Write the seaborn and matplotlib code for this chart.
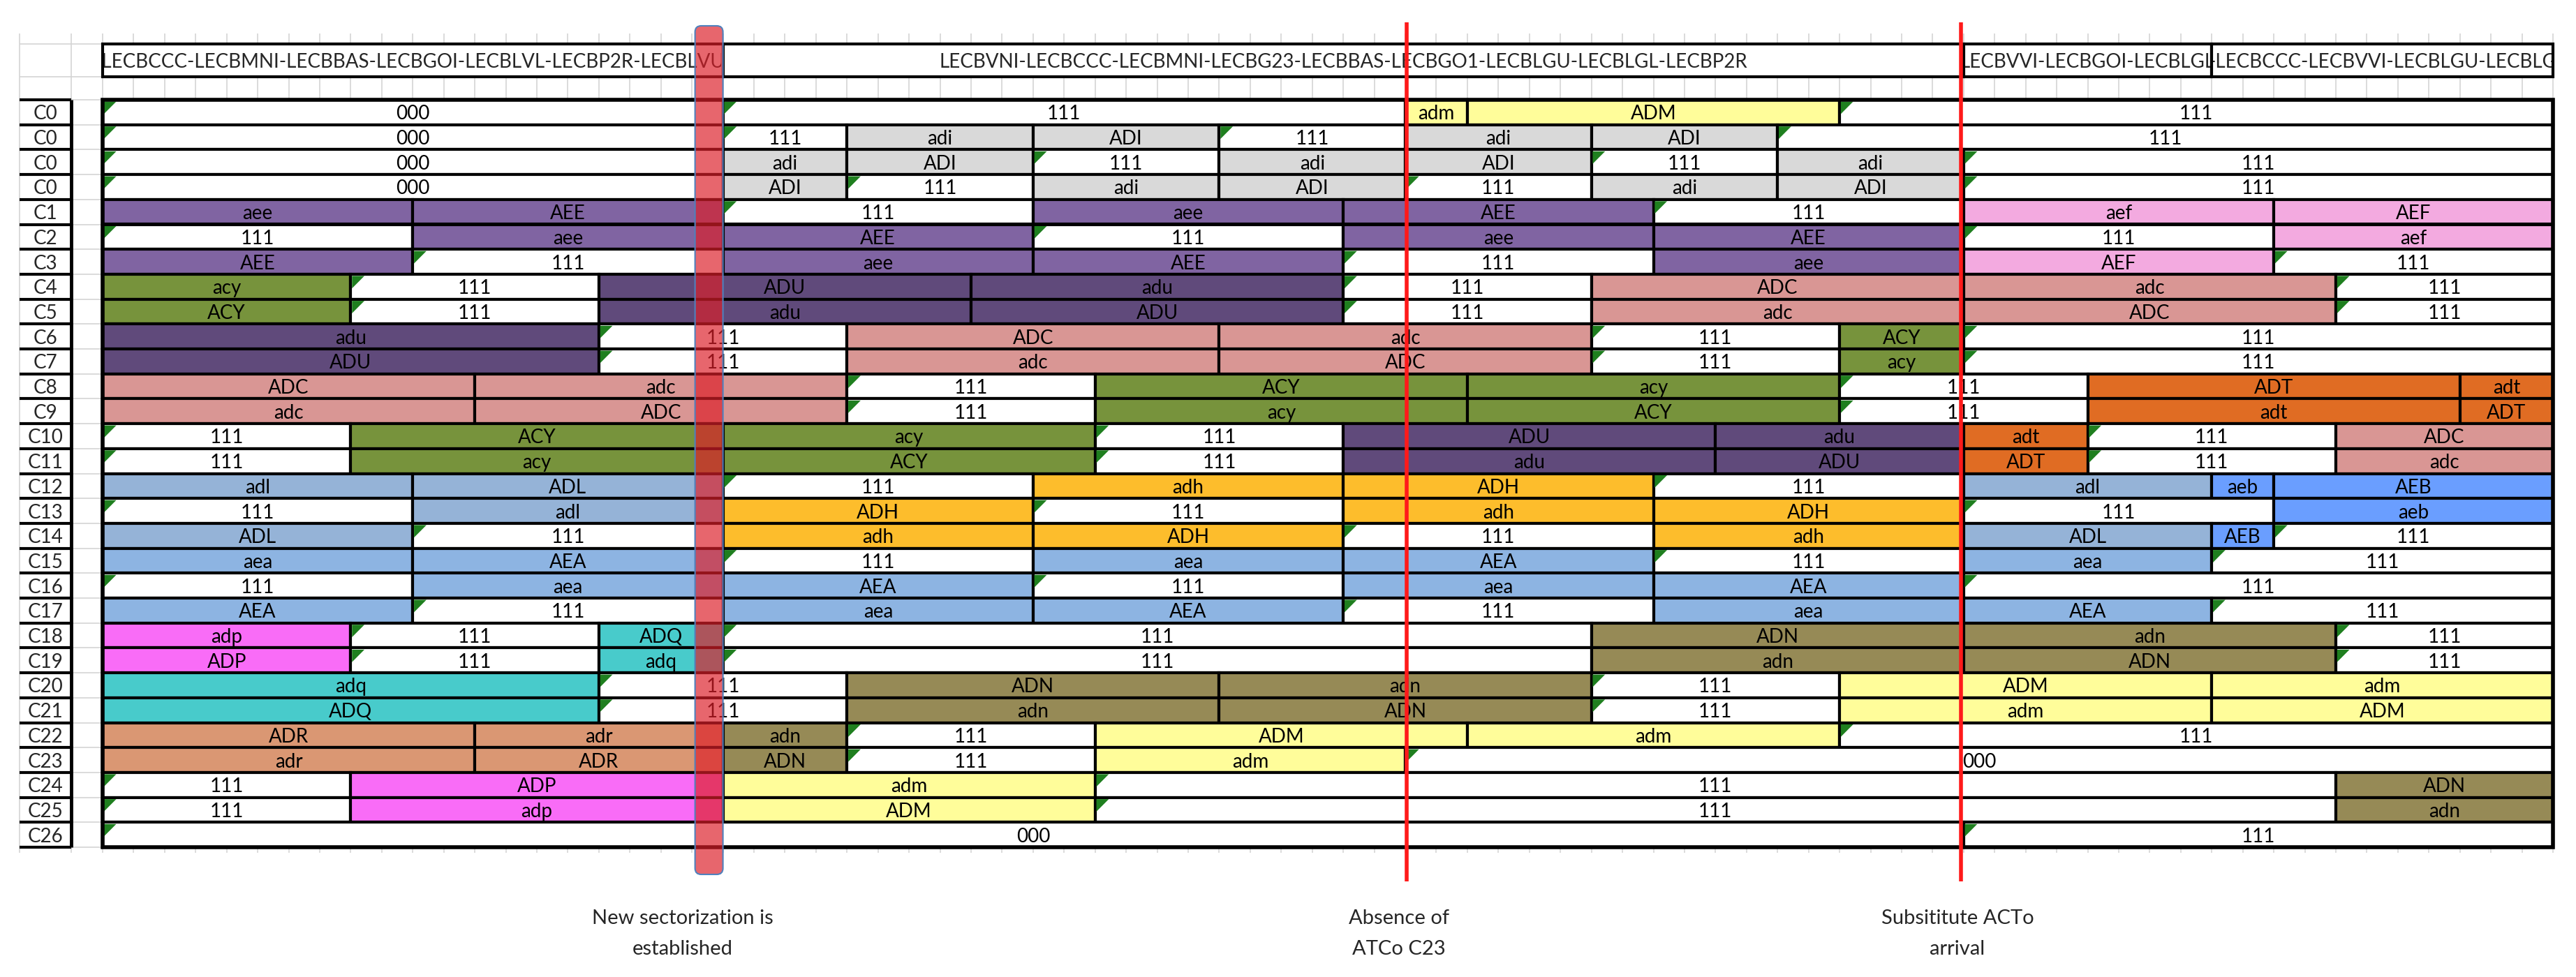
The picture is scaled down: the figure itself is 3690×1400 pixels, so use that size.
import matplotlib
matplotlib.use("Agg")
import matplotlib.pyplot as plt
import seaborn as sns
from matplotlib.patches import Rectangle, FancyBboxPatch, Polygon
from matplotlib.transforms import Bbox, TransformedBbox

# ---------------- data ----------------
row_names = ["C0", "C0", "C0", "C0", "C1", "C2", "C3", "C4", "C5", "C6", "C7",
             "C8", "C9", "C10", "C11", "C12", "C13", "C14", "C15", "C16", "C17",
             "C18", "C19", "C20", "C21", "C22", "C23", "C24", "C25", "C26"]

seg_labels = [
    ["000", "111", "adm", "ADM", "111"],
    ["000", "111", "adi", "ADI", "111", "adi", "ADI", "111"],
    ["000", "adi", "ADI", "111", "adi", "ADI", "111", "adi", "111"],
    ["000", "ADI", "111", "adi", "ADI", "111", "adi", "ADI", "111"],
    ["aee", "AEE", "111", "aee", "AEE", "111", "aef", "AEF"],
    ["111", "aee", "AEE", "111", "aee", "AEE", "111", "aef"],
    ["AEE", "111", "aee", "AEE", "111", "aee", "AEF", "111"],
    ["acy", "111", "ADU", "adu", "111", "ADC", "adc", "111"],
    ["ACY", "111", "adu", "ADU", "111", "adc", "ADC", "111"],
    ["adu", "111", "ADC", "adc", "111", "ACY", "111"],
    ["ADU", "111", "adc", "ADC", "111", "acy", "111"],
    ["ADC", "adc", "111", "ACY", "acy", "111", "ADT", "adt"],
    ["adc", "ADC", "111", "acy", "ACY", "111", "adt", "ADT"],
    ["111", "ACY", "acy", "111", "ADU", "adu", "adt", "111", "ADC"],
    ["111", "acy", "ACY", "111", "adu", "ADU", "ADT", "111", "adc"],
    ["adl", "ADL", "111", "adh", "ADH", "111", "adl", "aeb", "AEB"],
    ["111", "adl", "ADH", "111", "adh", "ADH", "111", "aeb"],
    ["ADL", "111", "adh", "ADH", "111", "adh", "ADL", "AEB", "111"],
    ["aea", "AEA", "111", "aea", "AEA", "111", "aea", "111"],
    ["111", "aea", "AEA", "111", "aea", "AEA", "111"],
    ["AEA", "111", "aea", "AEA", "111", "aea", "AEA", "111"],
    ["adp", "111", "ADQ", "111", "ADN", "adn", "111"],
    ["ADP", "111", "adq", "111", "adn", "ADN", "111"],
    ["adq", "111", "ADN", "adn", "111", "ADM", "adm"],
    ["ADQ", "111", "adn", "ADN", "111", "adm", "ADM"],
    ["ADR", "adr", "adn", "111", "ADM", "adm", "111"],
    ["adr", "ADR", "ADN", "111", "adm", "000"],
    ["111", "ADP", "adm", "111", "ADN"],
    ["111", "adp", "ADM", "111", "adn"],
    ["000", "111"],
]

# time-slot boundaries of every segment (slot units of the spreadsheet)
seg_edges = [
    [0, 20, 42, 44, 56, 79],
    [0, 20, 24, 30, 36, 42, 48, 54, 79],
    [0, 20, 24, 30, 36, 42, 48, 54, 60, 79],
    [0, 20, 24, 30, 36, 42, 48, 54, 60, 79],
    [0, 10, 20, 30, 40, 50, 60, 70, 79],
    [0, 10, 20, 30, 40, 50, 60, 70, 79],
    [0, 10, 20, 30, 40, 50, 60, 70, 79],
    [0, 8, 16, 28, 40, 48, 60, 72, 79],
    [0, 8, 16, 28, 40, 48, 60, 72, 79],
    [0, 16, 24, 36, 48, 56, 60, 79],
    [0, 16, 24, 36, 48, 56, 60, 79],
    [0, 12, 24, 32, 44, 56, 64, 76, 79],
    [0, 12, 24, 32, 44, 56, 64, 76, 79],
    [0, 8, 20, 32, 40, 52, 60, 64, 72, 79],
    [0, 8, 20, 32, 40, 52, 60, 64, 72, 79],
    [0, 10, 20, 30, 40, 50, 60, 68, 70, 79],
    [0, 10, 20, 30, 40, 50, 60, 70, 79],
    [0, 10, 20, 30, 40, 50, 60, 68, 70, 79],
    [0, 10, 20, 30, 40, 50, 60, 68, 79],
    [0, 10, 20, 30, 40, 50, 60, 79],
    [0, 10, 20, 30, 40, 50, 60, 68, 79],
    [0, 8, 16, 20, 48, 60, 72, 79],
    [0, 8, 16, 20, 48, 60, 72, 79],
    [0, 16, 24, 36, 48, 56, 68, 79],
    [0, 16, 24, 36, 48, 56, 68, 79],
    [0, 12, 20, 24, 32, 44, 56, 79],
    [0, 12, 20, 24, 32, 42, 79],
    [0, 8, 20, 32, 72, 79],
    [0, 8, 20, 32, 72, 79],
    [0, 60, 79],
]

header_labels = [
    "-LECBCCC-LECBMNI-LECBBAS-LECBGOI-LECBLVL-LECBP2R-LECBLVU-",
    "LECBVNI-LECBCCC-LECBMNI-LECBG23-LECBBAS-LECBGO1-LECBLGU-LECBLGL-LECBP2R",
    "LECBVVI-LECBGOI-LECBLGL",
    "-LECBCCC-LECBVVI-LECBLGU-LECBLGL",
]
header_edges = [0, 20, 60, 68, 79]
header_align = ["center", "center", "left", "left"]

sectorization_span = (19.1, 20.0)
event_slots = [42.04, 59.92]
note_slots = [18.7, 41.8, 59.8]
note_texts = [["New sectorization is", "established"],
              ["Absence of", "ATCo C23"],
              ["Subsititute ACTo", "arrival"]]

sector_colors = {
    "000": "#FFFFFF", "111": "#FFFFFF",
    "adi": "#D9D9D9", "aee": "#8064A2", "aef": "#F3AAE0",
    "acy": "#77933C", "adu": "#604A7B", "adc": "#D99694",
    "adt": "#E06C23", "adl": "#95B3D7", "aea": "#8DB4E2",
    "aeb": "#6A9EFF", "adh": "#FDBD2C", "adp": "#F96CF7",
    "adq": "#48CBCB", "adn": "#968A56", "adm": "#FFFD9A",
    "adr": "#DA9773",
}

# ---------------- layout ----------------
sns.set_theme(style="white")
plt.rcParams["font.family"] = ["Lato", "DejaVu Sans"]

W, H = 3690, 1400
COLW, ROWH = 44.43, 35.7
X0, Y0 = 147, 143

fig = plt.figure(figsize=(W / 100, H / 100), dpi=100)
ax = fig.add_axes([0, 0, 1, 1])
ax.set_xlim(-X0 / COLW, (W - X0) / COLW)
ax.set_ylim((H - Y0) / ROWH, -Y0 / ROWH)
ax.axis("off")

def cx(px):
    return (px - X0) / COLW

def ry(px):
    return (px - Y0) / ROWH

nrows = len(row_names)
ncols = header_edges[-1]
lab_l, lab_r = cx(28), cx(102)
hdr_t, hdr_b = ry(63), ry(110)
grid_c = "#D4D4D4"

# light spreadsheet gridlines
ax.vlines(range(ncols + 1), hdr_b, 0, color=grid_c, lw=1.2, zorder=1)
ax.vlines(range(ncols + 1), ry(48), hdr_t, color=grid_c, lw=1.2, zorder=1)
ax.vlines(range(ncols + 1), nrows, nrows + 0.22, color=grid_c, lw=1.2, zorder=1)
ax.vlines([lab_l, lab_r], ry(48), nrows + 0.22, color=grid_c, lw=1.2, zorder=1)
ax.hlines([hdr_t, hdr_b], lab_l, 0, color=grid_c, lw=1.2, zorder=1)
ax.hlines(range(nrows + 1), lab_l, 0, color=grid_c, lw=1.2, zorder=1)

# header boxes
for i, lab in enumerate(header_labels):
    a, b = header_edges[i], header_edges[i + 1]
    rect = Rectangle((a, hdr_t), b - a, hdr_b - hdr_t, facecolor="white",
                     edgecolor="black", lw=3, zorder=2)
    ax.add_patch(rect)
    if header_align[i] == "center":
        xt, ha = (a + b) / 2, "center"
    else:
        xt, ha = a - 0.12, "left"
    t = ax.text(xt, (hdr_t + hdr_b) / 2, lab, ha=ha, va="center_baseline",
                fontsize=20, zorder=3, clip_on=True)
    t.set_clip_box(TransformedBbox(Bbox([[a + 0.05, hdr_t], [b - 0.05, hdr_b]]),
                                   ax.transData))

# row labels
ax.hlines(range(nrows + 1), lab_l, lab_r, color="black", lw=3, zorder=2)
ax.vlines(lab_r, 0, nrows, color="black", lw=3.5, zorder=2)
for r, name in enumerate(row_names):
    ax.text((lab_l + lab_r) / 2, r + 0.5, name, ha="center",
            va="center_baseline", fontsize=20, zorder=3)

# schedule cells
for r, (labs, edges) in enumerate(zip(seg_labels, seg_edges)):
    for lab, a, b in zip(labs, edges[:-1], edges[1:]):
        ax.barh(r + 0.5, b - a, left=a, height=1.0,
                color=sector_colors[lab.lower()], edgecolor="black",
                linewidth=3, zorder=2)
        ax.text((a + b) / 2, r + 0.5, lab, ha="center", va="center_baseline",
                fontsize=20, color="black", zorder=4)
        if lab in ("000", "111"):
            ax.add_patch(Polygon([(a + 0.04, r + 0.07), (a + 0.44, r + 0.07),
                                  (a + 0.04, r + 0.57)], closed=True,
                                 facecolor="#1F7F1F", edgecolor="none",
                                 zorder=3))

# outer frame of data area
ax.add_patch(Rectangle((0, 0), ncols, nrows, fill=False, edgecolor="black",
                       lw=4, zorder=3))

# new sectorization band
s0, s1 = sectorization_span
ax.add_patch(FancyBboxPatch((s0, ry(37)), s1 - s0, ry(1253) - ry(37),
                            boxstyle="round,pad=0,rounding_size=0.2",
                            mutation_aspect=1.24,
                            facecolor=(220 / 255, 30 / 255, 40 / 255, 0.68),
                            edgecolor="#4F81BD", lw=1.5, zorder=5))

# event lines
ax.vlines(event_slots, ry(32), ry(1263), color="#FF1A1A", lw=4, zorder=6)

# annotations
for xs, lines in zip(note_slots, note_texts):
    ax.text(xs, ry(1313), lines[0], ha="center", va="center_baseline",
            fontsize=21, zorder=7)
    ax.text(xs, ry(1358), lines[1], ha="center", va="center_baseline",
            fontsize=21, zorder=7)

fig.savefig("out.png", dpi=100, facecolor="white")
